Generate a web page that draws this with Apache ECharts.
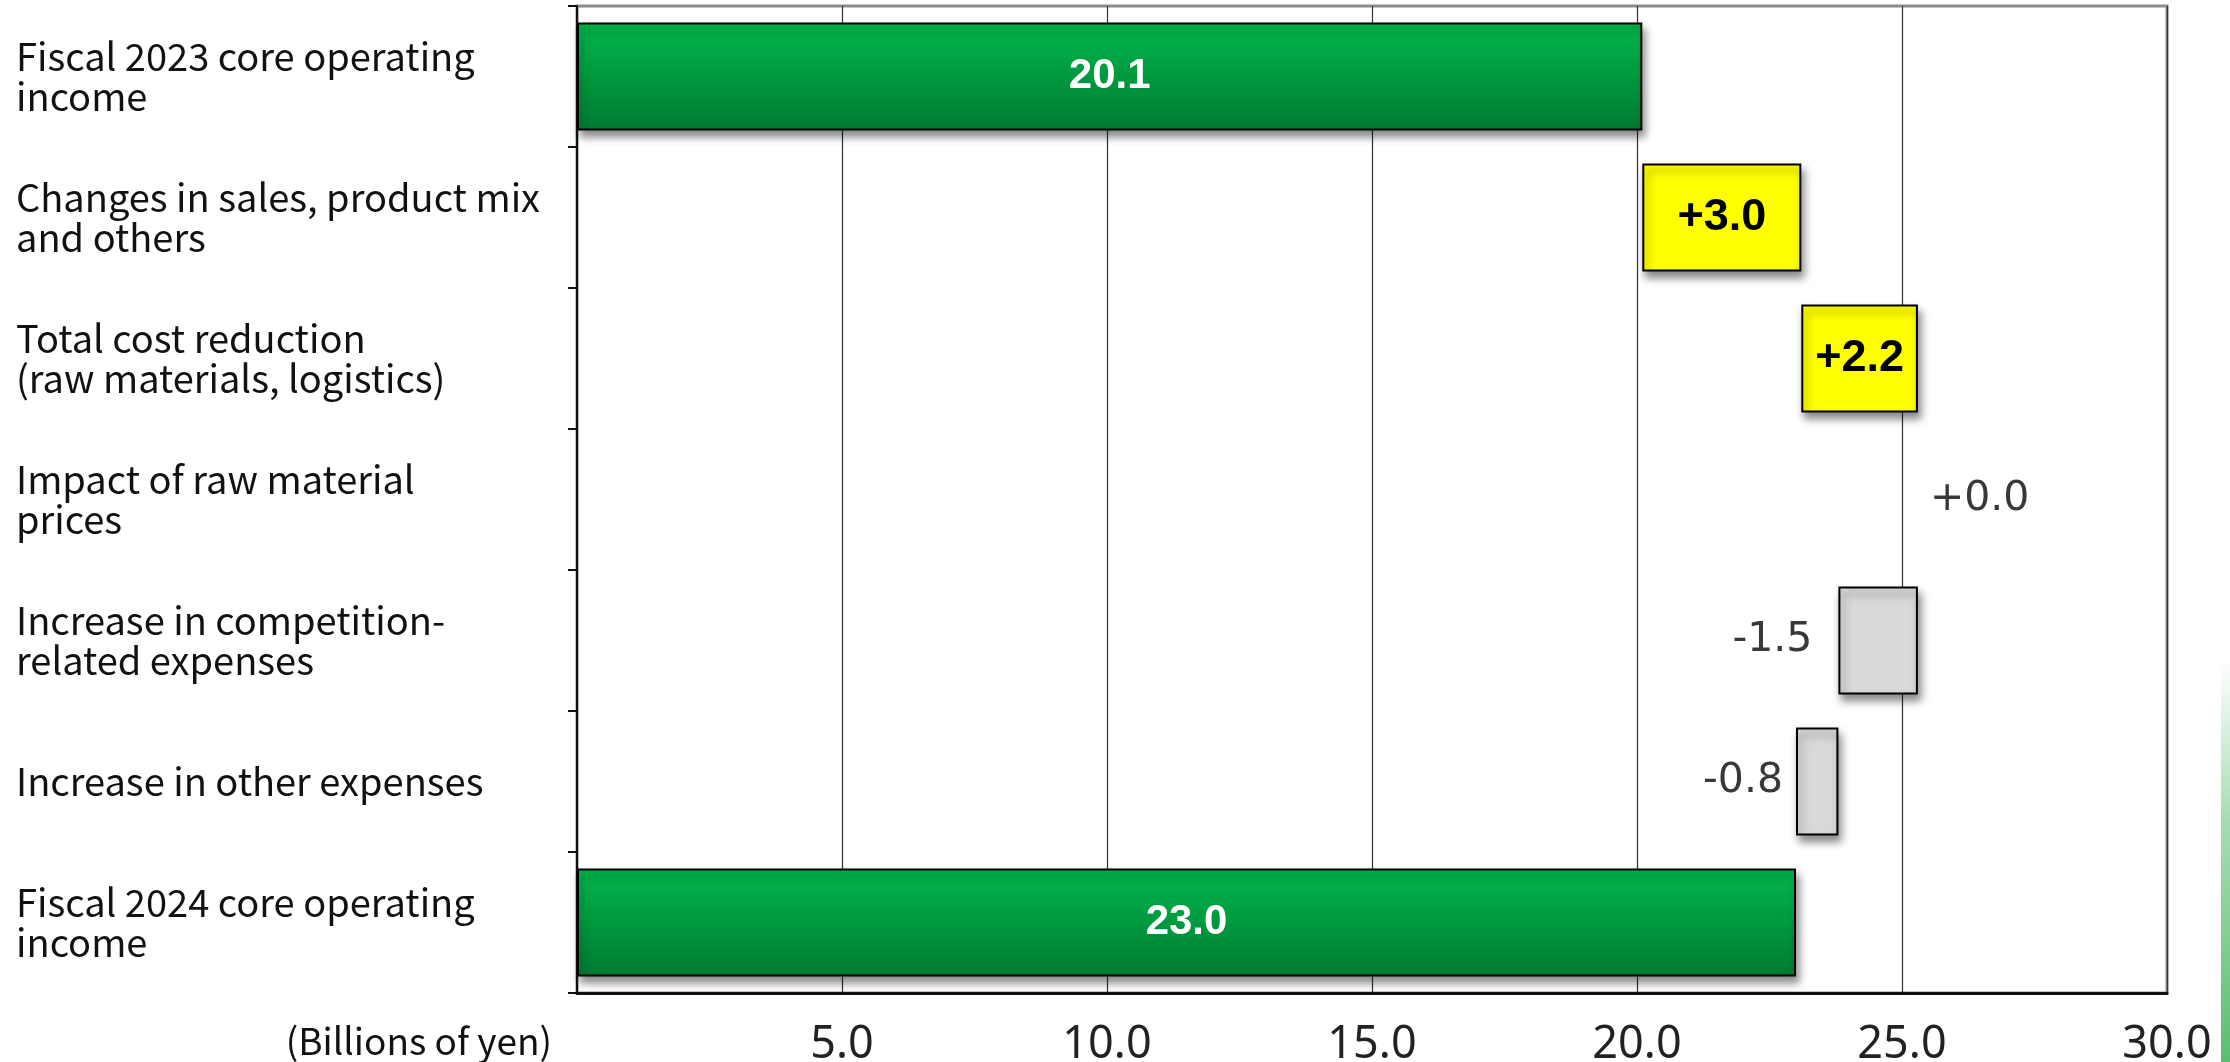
<!DOCTYPE html>
<html>
<head>
<meta charset="utf-8">
<script src="https://cdn.jsdelivr.net/npm/echarts@6/dist/echarts.min.js"></script>
<style>
html,body{margin:0;padding:0;background:#fff;}
#chart{width:2230px;height:1062px;}
</style>
</head>
<body>
<div id="chart"></div>
<script>
// ---- data ----
const categories = [
  'Fiscal 2023 core operating\nincome',
  'Changes in sales, product mix\nand others',
  'Total cost reduction\n(raw materials, logistics)',
  'Impact of raw material\nprices',
  'Increase in competition-\nrelated expenses',
  'Increase in other expenses',
  'Fiscal 2024 core operating\nincome'
];
const kinds = ['total', 'delta', 'delta', 'delta', 'delta', 'delta', 'total'];
const values = [20.1, 3.0, 2.2, 0.0, -1.5, -0.8, 23.0];
const xTicks = [0, 5, 10, 15, 20, 25, 30];
const unitLabel = '(Billions of yen)';

// ---- waterfall build ----
const baseData = [];
const lenData = [];
let running = 0;
values.forEach((v, i) => {
  if (kinds[i] === 'total') {
    baseData.push(0);
    lenData.push(v);
    running = v;
  } else if (v >= 0) {
    baseData.push(running);
    lenData.push(v);
    running += v;
  } else {
    running += v;
    baseData.push(running);
    lenData.push(-v);
  }
});

const greenGrad = new echarts.graphic.LinearGradient(0, 0, 0, 1, [
  { offset: 0, color: '#00b84c' },
  { offset: 1, color: '#007a31' }
]);

function labelText(i) {
  const v = values[i];
  if (kinds[i] === 'total') return v.toFixed(1);
  return (v >= 0 ? '+' : '-') + Math.abs(v).toFixed(1);
}

const shadow = { shadowColor: 'rgba(0,0,0,0.45)', shadowBlur: 8, shadowOffsetX: 3, shadowOffsetY: 6 };

const valueItems = lenData.map((len, i) => {
  const v = values[i];
  let itemStyle, label;
  if (kinds[i] === 'total') {
    itemStyle = Object.assign({ color: greenGrad, borderColor: '#000', borderWidth: 2 }, shadow);
    label = { show: true, position: 'inside', color: '#fff', fontFamily: 'Liberation Sans', fontWeight: 'bold', fontSize: 42 };
  } else if (v > 0) {
    itemStyle = Object.assign({ color: '#ffff00', borderColor: '#000', borderWidth: 2 }, shadow);
    label = { show: true, position: 'inside', color: '#000', fontFamily: 'Liberation Sans', fontWeight: 'bold', fontSize: 45 };
  } else if (v === 0) {
    itemStyle = { color: 'rgba(0,0,0,0)', borderWidth: 0 };
    label = { show: true, position: 'right', distance: 12, color: '#383838', fontFamily: 'DejaVu Sans', fontSize: 41 };
  } else {
    itemStyle = Object.assign({ color: '#d9d9d9', borderColor: '#000', borderWidth: 2 }, shadow);
    label = { show: true, position: 'left', distance: (i === 4 ? 26 : 13), color: '#383838', fontFamily: 'DejaVu Sans', fontSize: 41 };
  }
  label.formatter = () => labelText(i);
  return { value: len, itemStyle, label };
});

const chart = echarts.init(document.getElementById('chart'), null, { renderer: 'canvas' });
chart.setOption({
  animation: false,
  backgroundColor: '#fff',
  grid: {
    left: 577, right: 63, top: 6, bottom: 69,
    outerBoundsMode: 'none', containLabel: false,
    show: true, borderColor: '#8c8c8c', borderWidth: 3, backgroundColor: 'transparent'
  },
  xAxis: {
    type: 'value',
    min: xTicks[0], max: xTicks[xTicks.length - 1], interval: xTicks[1] - xTicks[0],
    axisLine: { show: true, lineStyle: { color: '#111', width: 3 } },
    axisTick: { show: false },
    splitLine: { show: true, lineStyle: { color: '#333', width: 1.2 } },
    axisLabel: {
      margin: 30, color: '#222', fontFamily: 'Noto Sans', fontSize: 45,
      formatter: (v) => (v === 0 ? '' : v.toFixed(1))
    }
  },
  yAxis: {
    type: 'category',
    data: categories,
    inverse: true,
    axisLine: { show: true, lineStyle: { color: '#111', width: 2 } },
    axisTick: { show: true, length: 9, lineStyle: { color: '#111', width: 2 } },
    splitLine: { show: false },
    axisLabel: {
      align: 'left', margin: 561, color: '#111', padding: [0, 0, 8, 0],
      fontFamily: 'Noto Sans CJK JP', fontSize: 38, lineHeight: 40
    }
  },
  graphic: [
    {
      type: 'text', right: 2230 - 552, top: 1022,
      style: { text: unitLabel, fill: '#111', font: '37px "Noto Sans CJK JP"' }
    },
    {
      type: 'rect', shape: { x: 2221, y: 660, width: 9, height: 402 },
      style: {
        fill: new echarts.graphic.LinearGradient(0, 0, 0, 1, [
          { offset: 0, color: 'rgba(108,196,127,0)' },
          { offset: 0.4, color: 'rgba(108,196,127,0.6)' },
          { offset: 1, color: 'rgba(90,190,110,1)' }
        ])
      },
      silent: true
    }
  ],
  series: [
    {
      type: 'bar', stack: 'w', barWidth: 108, silent: true,
      itemStyle: { color: 'rgba(0,0,0,0)' },
      data: baseData
    },
    {
      type: 'bar', stack: 'w', barWidth: 108,
      data: valueItems
    }
  ]
});
</script>
</body>
</html>
